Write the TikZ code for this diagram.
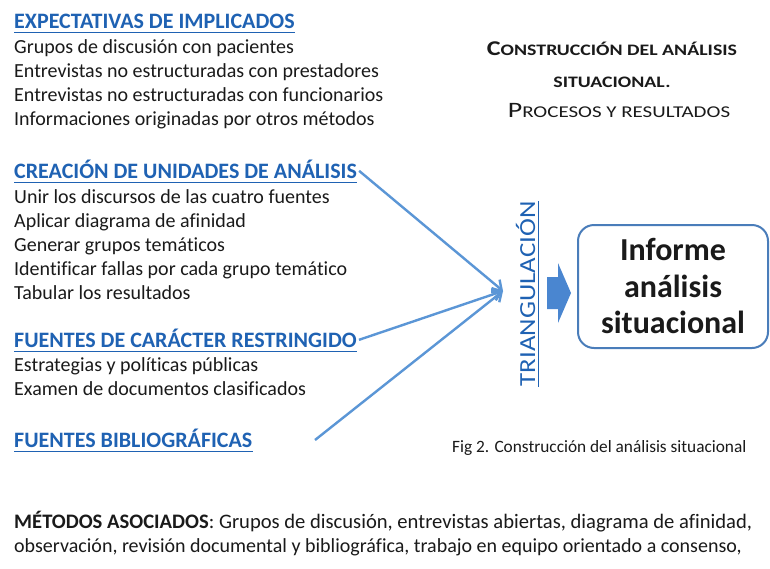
\documentclass[tikz,border=0pt]{standalone}
\usepackage{fontspec}
\setmainfont{Carlito}[Ligatures=NoCommon]
\usetikzlibrary{arrows.meta}
\definecolor{hblue}{HTML}{1F62B3}
\definecolor{ablue}{HTML}{5B96D6}
\definecolor{fblue}{HTML}{4A86D0}
\definecolor{bblue}{HTML}{4A7DBA}
\definecolor{txt}{HTML}{1A1A1A}
\newcommand\bigsc[1]{{\fontsize{21}{24}\selectfont #1}}
\newcommand\smlsc[1]{{\fontsize{16}{24}\selectfont #1}}
\begin{document}
\begin{tikzpicture}[x=1pt,y=-1pt,
  head/.style={anchor=base west,inner sep=0pt,text=hblue,font=\fontsize{22}{24}\selectfont\bfseries},
  item/.style={anchor=base west,inner sep=0pt,text=txt,font=\fontsize{20}{24}\selectfont},
  uline/.style={draw=hblue,line width=1pt},
  conn/.style={draw=ablue,line width=2.4pt,-{Straight Barb[length=8pt,width=13pt]}},
  ttl/.style={anchor=base,inner sep=0pt,text=txt,font=\bfseries},
  res/.style={anchor=base,inner sep=0pt,text=txt,font=\fontsize{32}{34}\selectfont\bfseries}]
\useasboundingbox[fill=white] (0,0) rectangle (770,568);

% group 1
\node[head] (h1) at (14,28) {EXPECTATIVAS DE IMPLICADOS};
\draw[uline] ([yshift=-4pt]h1.base west) -- ([yshift=-4pt]h1.base east);
\node[item] (a1) at (14,53) {Grupos de discusión con pacientes};
\node[item] (a2) at (14,77) {Entrevistas no estructuradas con prestadores};
\node[item] (a3) at (14,101) {Entrevistas no estructuradas con funcionarios};
\node[item] (a4) at (14,125) {Informaciones originadas por otros métodos};

% group 2
\node[head] (h2) at (14,178) {CREACIÓN DE UNIDADES DE ANÁLISIS};
\draw[uline] ([yshift=-4pt]h2.base west) -- ([yshift=-4pt]h2.base east);
\node[item] (b1) at (14,203) {Unir los discursos de las cuatro fuentes};
\node[item] (b2) at (14,227) {Aplicar diagrama de afinidad};
\node[item] (b3) at (14,251) {Generar grupos temáticos};
\node[item] (b4) at (14,275) {Identificar fallas por cada grupo temático};
\node[item] (b5) at (14,299) {Tabular los resultados};

% group 3
\node[head] (h3) at (14,347) {FUENTES DE CARÁCTER RESTRINGIDO};
\draw[uline] ([yshift=-4pt]h3.base west) -- ([yshift=-4pt]h3.base east);
\node[item] (c1) at (14,371) {Estrategias y políticas públicas};
\node[item] (c2) at (14,395) {Examen de documentos clasificados};

% group 4
\node[head] (h4) at (14,447) {FUENTES BIBLIOGRÁFICAS};
\draw[uline] ([yshift=-4pt]h4.base west) -- ([yshift=-4pt]h4.base east);

% title
\node[ttl] (t1) at (612,55) {\scalebox{1.24}[1]{\bigsc{C}\smlsc{ONSTRUCCIÓN DEL ANÁLISIS}}};
\node[ttl] (t2) at (612,87) {\scalebox{1.24}[1]{\smlsc{SITUACIONAL.}}};
\node[ttl,font=\mdseries] (t3) at (619,117) {\scalebox{1.27}[1]{{\fontsize{22}{24}\selectfont P}{\fontsize{16.5}{24}\selectfont ROCESOS Y RESULTADOS}}};

% convergence
\coordinate (m) at (503,291);
\coordinate (s4) at (315,440);
\draw[conn] ([xshift=2pt,yshift=-2pt]h2.east) -- (m);
\draw[conn] ([xshift=2pt,yshift=-2pt]h3.east) -- (m);
\draw[conn] (s4) -- (m);

% triangulacion
\node[rotate=90,inner sep=0pt,anchor=base,text=hblue,font=\fontsize{23}{26}\selectfont] (tr) at (535,294) {\scalebox{1.17}[1]{TRIANGULACIÓN}};
\draw[draw=hblue,line width=1pt] ([xshift=3pt]tr.south west) -- ([xshift=3pt]tr.south east);

% block arrow
\fill[fblue] (547,277) -- (558,277) -- (558,263) -- (571,293) -- (558,323) -- (558,309) -- (547,309) -- cycle;

% result box
\node[draw=bblue,line width=2pt,rounded corners=16pt,minimum width=190pt,minimum height=123pt,inner sep=0pt] (box) at (673,286.5) {};
\node[res] (r1) at (673,260) {Informe};
\node[res] (r2) at (673,297) {análisis};
\node[res] (r3) at (673,333) {situacional};

% caption
\node[anchor=base west,inner sep=0pt,text=txt,font=\fontsize{17.3}{20}\selectfont] (cap) at (452,452) {Fig 2. Construcción del análisis situacional};

% bottom
\node[item,font=\fontsize{20.6}{24}\selectfont] (d1) at (14,528) {\textbf{MÉTODOS ASOCIADOS}: Grupos de discusión, entrevistas abiertas, diagrama de afinidad,};
\node[item,font=\fontsize{20}{24}\selectfont] (d2) at (14,552) {observación, revisión documental y bibliográfica, trabajo en equipo orientado a consenso,};
\end{tikzpicture}
\end{document}
